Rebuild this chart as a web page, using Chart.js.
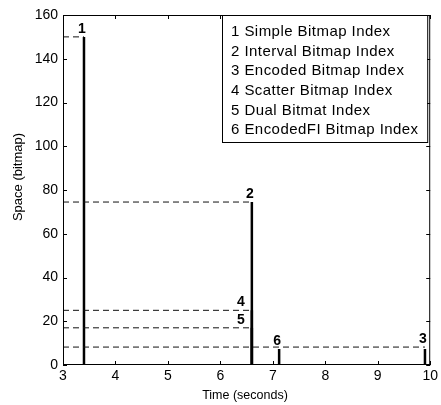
<!DOCTYPE html>
<html>
<head>
<meta charset="utf-8">
<script src="https://cdn.jsdelivr.net/npm/chart.js@4.4.1/dist/chart.umd.min.js"></script>
<style>
html,body{margin:0;padding:0;background:#fff;}
#wrap{width:441px;height:405px;}
</style>
</head>
<body>
<div id="wrap"><canvas id="c" width="441" height="405"></canvas></div>
<script>
// ---- data ----
const xTicks = [3, 4, 5, 6, 7, 8, 9, 10];
const yTicks = [0, 20, 40, 60, 80, 100, 120, 140, 160];
const methodIds = ['1', '2', '3', '4', '5', '6'];
const methodNames = [
  'Simple Bitmap Index',
  'Interval Bitmap Index',
  'Encoded Bitmap Index',
  'Scatter Bitmap Index',
  'Dual Bitmat Index',
  'EncodedFI Bitmap Index'
];
const methodTime = [3.4, 6.6, 9.9, 6.6, 6.6, 7.12];   // seconds
const methodSpace = [150, 74.5, 7.3, 25, 17, 7.3];    // stem height (bitmap)
const guideLevel = [150, 74.5, 8.2, 25, 17, null];    // dashed reference level
const xTitle = 'Time (seconds)';
const yTitle = 'Space (bitmap)';

// ---- datasets ----
const datasets = [];
methodIds.forEach((id, i) => {
  if (guideLevel[i] !== null) {
    datasets.push({
      label: 'guide' + id,
      data: [{x: xTicks[0], y: guideLevel[i]}, {x: methodTime[i], y: guideLevel[i]}],
      showLine: true, borderColor: '#111', borderWidth: 1, borderDash: [6, 4],
      pointRadius: 0, fill: false
    });
  }
});
methodIds.forEach((id, i) => {
  datasets.push({
    label: 'stem' + id,
    data: [{x: methodTime[i], y: 0}, {x: methodTime[i], y: methodSpace[i]}],
    showLine: true, borderColor: '#000', borderWidth: 2.5,
    pointRadius: 0, fill: false
  });
});

const labelSide = {'4': 'left', '5': 'left'};

const decor = {
  id: 'decor',
  afterDatasetsDraw(chart) {
    const ctx = chart.ctx;
    const ca = chart.chartArea;
    const xs = chart.scales.x, ys = chart.scales.y;
    ctx.save();
    // frame
    ctx.strokeStyle = '#000';
    ctx.lineWidth = 1;
    ctx.strokeRect(ca.left + 0.5, ca.top + 0.5, ca.right - ca.left - 1, ca.bottom - ca.top - 1);
    // inward ticks
    const tl = 4;
    ctx.beginPath();
    xTicks.forEach(v => {
      const px = Math.round(xs.getPixelForValue(v)) + 0.5;
      ctx.moveTo(px, ca.bottom); ctx.lineTo(px, ca.bottom - tl);
      ctx.moveTo(px, ca.top); ctx.lineTo(px, ca.top + tl);
    });
    yTicks.forEach(v => {
      const py = Math.round(ys.getPixelForValue(v)) + 0.5;
      ctx.moveTo(ca.left, py); ctx.lineTo(ca.left + tl, py);
      ctx.moveTo(ca.right, py); ctx.lineTo(ca.right - tl, py);
    });
    ctx.stroke();

    // numbered labels
    ctx.fillStyle = '#000';
    ctx.font = 'bold 14px "Liberation Sans", Arial, sans-serif';
    ctx.textBaseline = 'alphabetic';
    methodIds.forEach((id, i) => {
      const px = xs.getPixelForValue(methodTime[i]);
      if (labelSide[id] === 'left') {
        const py = ys.getPixelForValue(guideLevel[i]);
        ctx.textAlign = 'right';
        ctx.fillText(id, px - 7, py - 4);
      } else {
        const lvl = guideLevel[i] !== null ? Math.max(guideLevel[i], methodSpace[i]) : methodSpace[i];
        const py = ys.getPixelForValue(lvl);
        ctx.textAlign = 'center';
        ctx.fillText(id, px - 2, py - 4);
      }
    });

    // legend box
    ctx.font = '15px "Liberation Sans", Arial, sans-serif';
    ctx.letterSpacing = '0.45px';
    const bx = 222, by = ca.top, bw = ca.right - 3 - 222, bh = 127;
    ctx.fillStyle = '#fff';
    ctx.fillRect(bx, by, bw, bh);
    ctx.strokeStyle = '#000';
    ctx.strokeRect(bx + 0.5, by + 0.5, bw, bh);
    ctx.fillStyle = '#000';
    ctx.textAlign = 'left';
    ctx.textBaseline = 'middle';
    methodIds.forEach((id, i) => {
      ctx.fillText(id + ' ' + methodNames[i], bx + 9, by + 17 + i * 19.6);
    });
    ctx.letterSpacing = '0px';

    // axis titles
    ctx.font = '12.5px "Liberation Sans", Arial, sans-serif';
    ctx.textAlign = 'center';
    ctx.textBaseline = 'middle';
    ctx.fillText(xTitle, 245, 396);
    ctx.save();
    ctx.translate(18.5, 177);
    ctx.rotate(-Math.PI / 2);
    ctx.font = '13px "Liberation Sans", Arial, sans-serif';
    ctx.fillText(yTitle, 0, 0);
    ctx.restore();
    ctx.restore();
  }
};

new Chart(document.getElementById('c'), {
  type: 'scatter',
  data: {datasets},
  options: {
    responsive: false,
    animation: false,
    layout: {padding: {top: 15, right: 7, left: 0, bottom: 0}},
    plugins: {legend: {display: false}, tooltip: {enabled: false}},
    scales: {
      x: {
        type: 'linear', min: 3, max: 10,
        afterBuildTicks(s) { s.ticks = xTicks.map(v => ({value: v})); },
        afterFit(s) { s.height = 40; },
        grid: {display: false, drawTicks: false},
        border: {display: false},
        ticks: {color: '#000', padding: 3, font: {size: 14, family: '"Liberation Sans", Arial, sans-serif'}}
      },
      y: {
        type: 'linear', min: 0, max: 160,
        afterBuildTicks(s) { s.ticks = yTicks.map(v => ({value: v})); },
        afterFit(s) { s.width = 63; },
        grid: {display: false, drawTicks: false},
        border: {display: false},
        ticks: {color: '#000', padding: 5, font: {size: 14, family: '"Liberation Sans", Arial, sans-serif'}}
      }
    }
  },
  plugins: [decor]
});
</script>
</body>
</html>
